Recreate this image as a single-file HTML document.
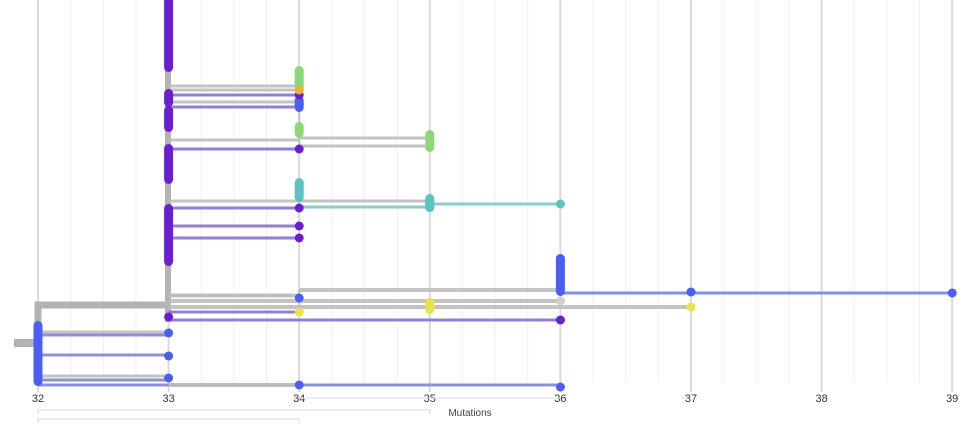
<!DOCTYPE html>
<html><head><meta charset="utf-8"><style>
html,body{margin:0;padding:0;background:#fff;width:976px;height:426px;overflow:hidden}
svg{display:block;font-family:"Liberation Sans",sans-serif}
</style></head><body>
<svg id="chart" width="976" height="426" viewBox="0 0 976 426"></svg>
<script>
const tickLabels = [32,33,34,35,36,37,38,39];
const minorTicks = [32.25,32.5,32.75,33.25,33.5,33.75,34.25,34.5,34.75,35.25,35.5,35.75,36.25,36.5,36.75,37.25,37.5,37.75,38.25,38.5,38.75];
// branches: [startMut, endMut, y, color, width]
const branchStart = [32,32,32,32,32,32,33,33,33,33,33,33,34,34,33,33,33,34,34,35,33,33,33,33,34,36,33,33,33,33,33];
const branchEnd   = [33,33,33,33,33,36,34,34,34,34,34,34,35,35,34,34,34,35,35,36,34,34,34,34,36,39,36,37,34,36,34];
const branchY     = [332,335,355,376,380,385,86,90,95,102,107,140,138,146,149,201,208,201,207,204,226,238,295,296,290,293,301,307,312,320,385];
const branchColor = ["g","p2","p2","g","p2","p2","g","g","p","g","p","g","g","g","p","g","p","g","t","t","p","p","g","g","g","b","g","g","p","p","g"];
// tips: [mut, y, color]
const tipMut   = [33,33,33,33,34,34,34,34,34,34,36,34,34,36,37,39,36,37,34,36,34,36];
const tipY     = [317,333,356,378,95,90,105,149,208,226,204,238,298,301,292,293,301,307,312,320,385,387];
const tipColor = ["p","b","b","b","p","o","b","p","p","p","t","p","b","gr","b","b","gr","y","y","p","b","b"];
// columns of stacked tips: [mut, y0, y1, color]
const colMut = [33,33,33,33,33,34,34,34,35,35,34,35,36,32,35];
const colY0  = [0,93,110,148,208,70,100,126,134,198,182,200,258,325,302];
const colY1  = [68,103,128,180,262,90,108,134,148,208,198,208,292,382,310];
const colColor=["p","p","p","p","p","gn","b","gn","gn","t","t","t","b","b","y"];

const colors={g:"#b5b5b5",p:"#6a1fd0",p2:"#8a7fd0",b:"#4a5ff0",o:"#f0b030",t:"#5cc3c0",gn:"#8ed67a",y:"#e6e44a",gr:"#cfcfcf"};
const lineColors={g:"#bdbdbd",p:"#8b6fcf",p2:"#7f86d6",b:"#6f86e0",t:"#7cc6c4"};
const X=m=>38+(m-32)*130.6;
const svg=document.getElementById('chart');
const NS="http://www.w3.org/2000/svg";
function mk(tag,attrs){const e=document.createElementNS(NS,tag);for(const k in attrs)e.setAttribute(k,attrs[k]);svg.appendChild(e);return e;}

minorTicks.forEach(m=>{const l=mk('line',{x1:X(m),x2:X(m),y1:0,y2:383,stroke:"#efefef","stroke-width":1});

});
tickLabels.forEach(m=>{const l=mk('line',{x1:X(m),x2:X(m),y1:0,y2:392,stroke:"#dadada","stroke-width":2});


const t=mk('text',{x:X(m),y:402,"text-anchor":"middle","font-size":11,fill:"#333"});t.textContent=m;

});

// brackets
[[X(32),X(35),410],[X(32),X(34),419],[X(34),X(36),398]].forEach(b=>{
const p=mk('path',{d:`M${b[0]},${b[2]+4}V${b[2]}H${b[1]}V${b[2]+4}`,fill:"none",stroke:b[2]==398?"#d6dcef":"#d8d8d8","stroke-width":1});

});
const ml=mk('text',{x:470,y:416,"text-anchor":"middle","font-size":10,fill:"#444"});ml.textContent="Mutations";



// backbone
const bb=[["M14,343H38",8],["M38,385V305H168",7],["M168,0V322",6]];
bb.forEach(d=>{const p=mk('path',{d:d[0],fill:"none",stroke:"#b3b3b3","stroke-width":d[1]});

});
// vertical connectors
[[34,70,150],[34,182,210],[34,290,312],[35,134,148],[35,200,208],[32,325,385]].forEach(v=>{
const l=mk('line',{x1:X(v[0]),x2:X(v[0]),y1:v[1],y2:v[2],stroke:"#c4c4c4","stroke-width":2});

});

branchY.forEach((y,i)=>{const c=branchColor[i];
const w=(c==="g"&&(branchEnd[i]-branchStart[i]>1||y===385||y===290))?4:3;
const l=mk('line',{x1:X(branchStart[i]),x2:X(branchEnd[i]),y1:y,y2:y,stroke:lineColors[c],"stroke-width":w,"stroke-opacity":0.9});

});

colY0.forEach((y0,i)=>{const x=X(colMut[i]);
const r=mk('rect',{x:x-4.5,y:y0-4,width:9,height:colY1[i]-y0+8,rx:4.5,fill:colors[colColor[i]]});

});

tipY.forEach((y,i)=>{
const c=mk('circle',{cx:X(tipMut[i]),cy:y,r:4.5,fill:colors[tipColor[i]]});

});
</script>
</body></html>
